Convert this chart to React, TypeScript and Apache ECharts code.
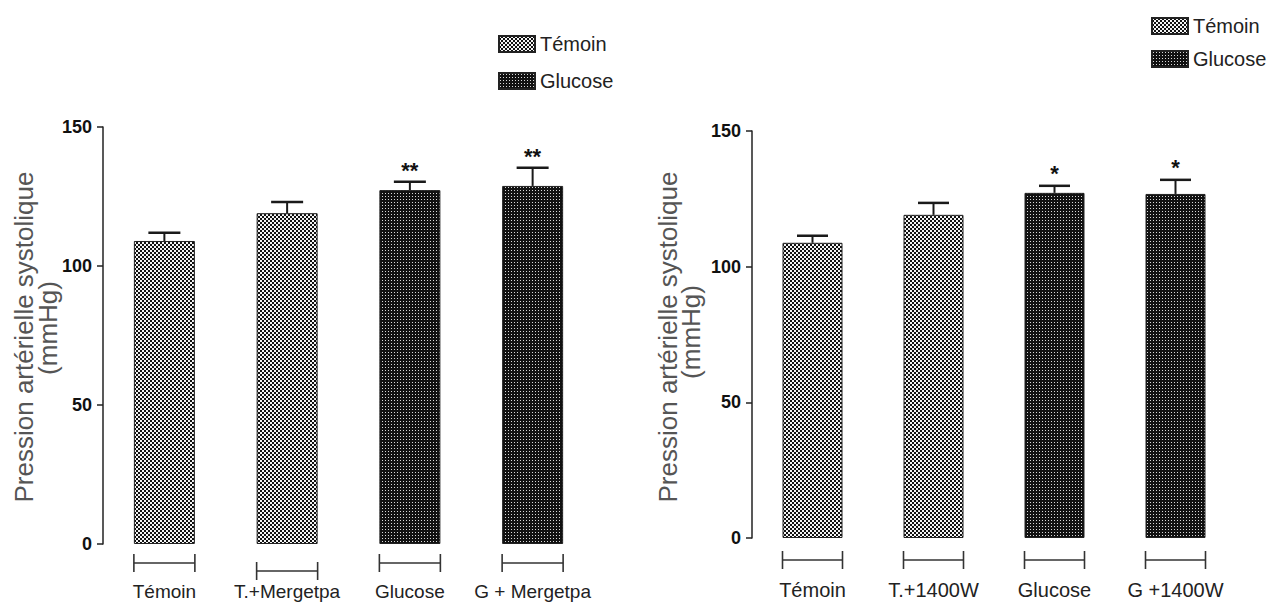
import React, { useEffect, useRef } from "react";
import * as echarts from "echarts";

// ---- data ----
const categoriesLeft = ["Témoin", "T.+Mergetpa", "Glucose", "G + Mergetpa"];
const meansLeft = [109, 119, 127.3, 128.8];
const errorsLeft = [3, 4, 3, 6.5];
const groupsLeft = ["Témoin", "Témoin", "Glucose", "Glucose"];
const starsLeft = ["", "", "**", "**"];

const categoriesRight = ["Témoin", "T.+1400W", "Glucose", "G +1400W"];
const meansRight = [108.8, 119.1, 127.2, 126.8];
const errorsRight = [2.6, 4.4, 2.6, 5.2];
const groupsRight = ["Témoin", "Témoin", "Glucose", "Glucose"];
const starsRight = ["", "", "*", "*"];

const legendNames = ["Témoin", "Glucose"];
const yTicks = { min: 0, max: 150, interval: 50 };
const yTitle = "Pression artérielle systolique";
const yUnit = "(mmHg)";

// ---- style ----
const NARROW = "'Liberation Sans Narrow', 'Arial Narrow', 'Liberation Sans', Arial, sans-serif";
const SANS = "'Liberation Sans', Arial, sans-serif";
const INK = "#1a1a1a";

function makePattern(dark: boolean) {
  const c = document.createElement("canvas");
  const s = dark ? 3 : 4;
  c.width = s;
  c.height = s;
  const ctx = c.getContext("2d")!;
  ctx.fillStyle = "#111";
  ctx.fillRect(0, 0, s, s);
  if (!dark) {
    ctx.fillStyle = "#f4f4f4";
    ctx.fillRect(0, 0, 2, 2);
    ctx.fillRect(2, 2, 2, 2);
  } else {
    ctx.fillStyle = "#d8d8d8";
    ctx.fillRect(1, 1, 1, 1);
  }
  return { image: c, repeat: "repeat", imageWidth: s, imageHeight: s } as any;
}

function buildPanel(
  idx: number,
  cats: string[],
  means: number[],
  errs: number[],
  groups: string[],
  stars: string[],
  barW: number,
  capW: number,
  bracketDrop: number[],
  starGap: number,
  light: any,
  dark: any
) {
  const barSeries = legendNames.map((name) => ({
    name,
    type: "bar",
    xAxisIndex: idx,
    yAxisIndex: idx,
    barWidth: barW,
    barGap: "-100%",
    itemStyle: {
      color: name === "Témoin" ? light : dark,
      borderColor: "#222",
      borderWidth: 1,
    },
    data: means.map((v, i) => (groups[i] === name ? v : "-")),
    z: 2,
  }));
  const custom = {
    type: "custom",
    xAxisIndex: idx,
    yAxisIndex: idx,
    z: 3,
    silent: true,
    data: means.map((v, i) => [i, v, errs[i]]),
    renderItem: (params: any, api: any) => {
      const i = params.dataIndex;
      const m = api.value(1);
      const e = api.value(2);
      const top = api.coord([i, m]);
      const et = api.coord([i, m + e]);
      const base = api.coord([i, 0]);
      const x = top[0];
      const by = base[1] + bracketDrop[i];
      const ls = { stroke: INK, lineWidth: 2 };
      const thin = { stroke: "#333", lineWidth: 1.6 };
      const children: any[] = [
        { type: "line", shape: { x1: x, y1: top[1], x2: x, y2: et[1] }, style: ls },
        { type: "line", shape: { x1: x - capW / 2, y1: et[1], x2: x + capW / 2, y2: et[1] }, style: { stroke: INK, lineWidth: 2.5 } },
        { type: "line", shape: { x1: x - barW / 2, y1: by, x2: x + barW / 2, y2: by }, style: thin },
        { type: "line", shape: { x1: x - barW / 2, y1: by - 9, x2: x - barW / 2, y2: by + 9 }, style: thin },
        { type: "line", shape: { x1: x + barW / 2, y1: by - 9, x2: x + barW / 2, y2: by + 9 }, style: thin },
      ];
      if (stars[i]) {
        children.push({
          type: "text",
          x,
          y: et[1] - starGap,
          style: {
            text: stars[i],
            fill: "#111",
            fontSize: 22,
            fontWeight: "bold",
            fontFamily: SANS,
            align: "center",
            verticalAlign: "middle",
          },
        });
      }
      return { type: "group", children };
    },
  };
  return [...barSeries, custom];
}

export default function App() {
  const ref = useRef<HTMLDivElement>(null);
  useEffect(() => {
    if (!ref.current) return;
    const chart = echarts.init(ref.current, null, { renderer: "svg" });
    const light = makePattern(false);
    const dark = makePattern(true);

    const xAxisBase = (gridIndex: number, data: string[], margin: number, size: number) => ({
      type: "category",
      gridIndex,
      data,
      axisLine: { show: false },
      axisTick: { show: false },
      axisLabel: {
        margin,
        fontSize: size,
        fontFamily: NARROW,
        color: "#222",
        interval: 0,
      },
    });
    const yAxisBase = (gridIndex: number) => ({
      type: "value",
      gridIndex,
      ...yTicks,
      splitLine: { show: false },
      axisLine: { show: true, lineStyle: { color: "#222", width: 1.5 } },
      axisTick: { show: true, length: 6, lineStyle: { color: "#222", width: 1.5 } },
      axisLabel: {
        margin: 11,
        fontSize: 18,
        fontWeight: "bold",
        fontFamily: NARROW,
        color: "#111",
      },
    });
    const legendBase = (left: number, top: number, gap: number) => ({
      data: legendNames,
      orient: "vertical",
      left,
      top,
      itemWidth: 36,
      itemHeight: 16,
      itemGap: gap,
      icon: "rect",
      selectedMode: false,
      textStyle: { fontSize: 20, fontFamily: NARROW, color: "#222" },
    });
    const titleText = (x: number, y: number, text: string) => ({
      type: "text",
      x,
      y,
      rotation: Math.PI / 2,
      style: {
        text,
        fontSize: 26,
        fontFamily: SANS,
        fill: "#555",
        align: "center",
        verticalAlign: "middle",
      },
    });

    chart.setOption({
      animation: false,
      backgroundColor: "#fff",
      grid: [
        { left: 103, top: 127, width: 491, height: 417 },
        { left: 752, top: 131, width: 484, height: 407 },
      ],
      xAxis: [xAxisBase(0, categoriesLeft, 38, 19), xAxisBase(1, categoriesRight, 42, 20)],
      yAxis: [yAxisBase(0), yAxisBase(1)],
      legend: [legendBase(493, 29, 17), legendBase(1146, 11, 13)],
      graphic: [
        titleText(24, 337, yTitle),
        titleText(48, 328, yUnit),
        titleText(668, 337, yTitle),
        titleText(691, 332, yUnit),
      ],
      series: [
        ...buildPanel(0, categoriesLeft, meansLeft, errorsLeft, groupsLeft, starsLeft, 61, 32, [19, 27, 19, 19], 11, light, dark),
        ...buildPanel(1, categoriesRight, meansRight, errorsRight, groupsRight, starsRight, 60, 31, [22, 22, 22, 22], 12, light, dark),
      ],
    });
    return () => chart.dispose();
  }, []);
  return (
    <div
      ref={ref}
      style={{ position: "absolute", left: 0, top: 0, width: 1274, height: 610, background: "#fff" }}
    />
  );
}
